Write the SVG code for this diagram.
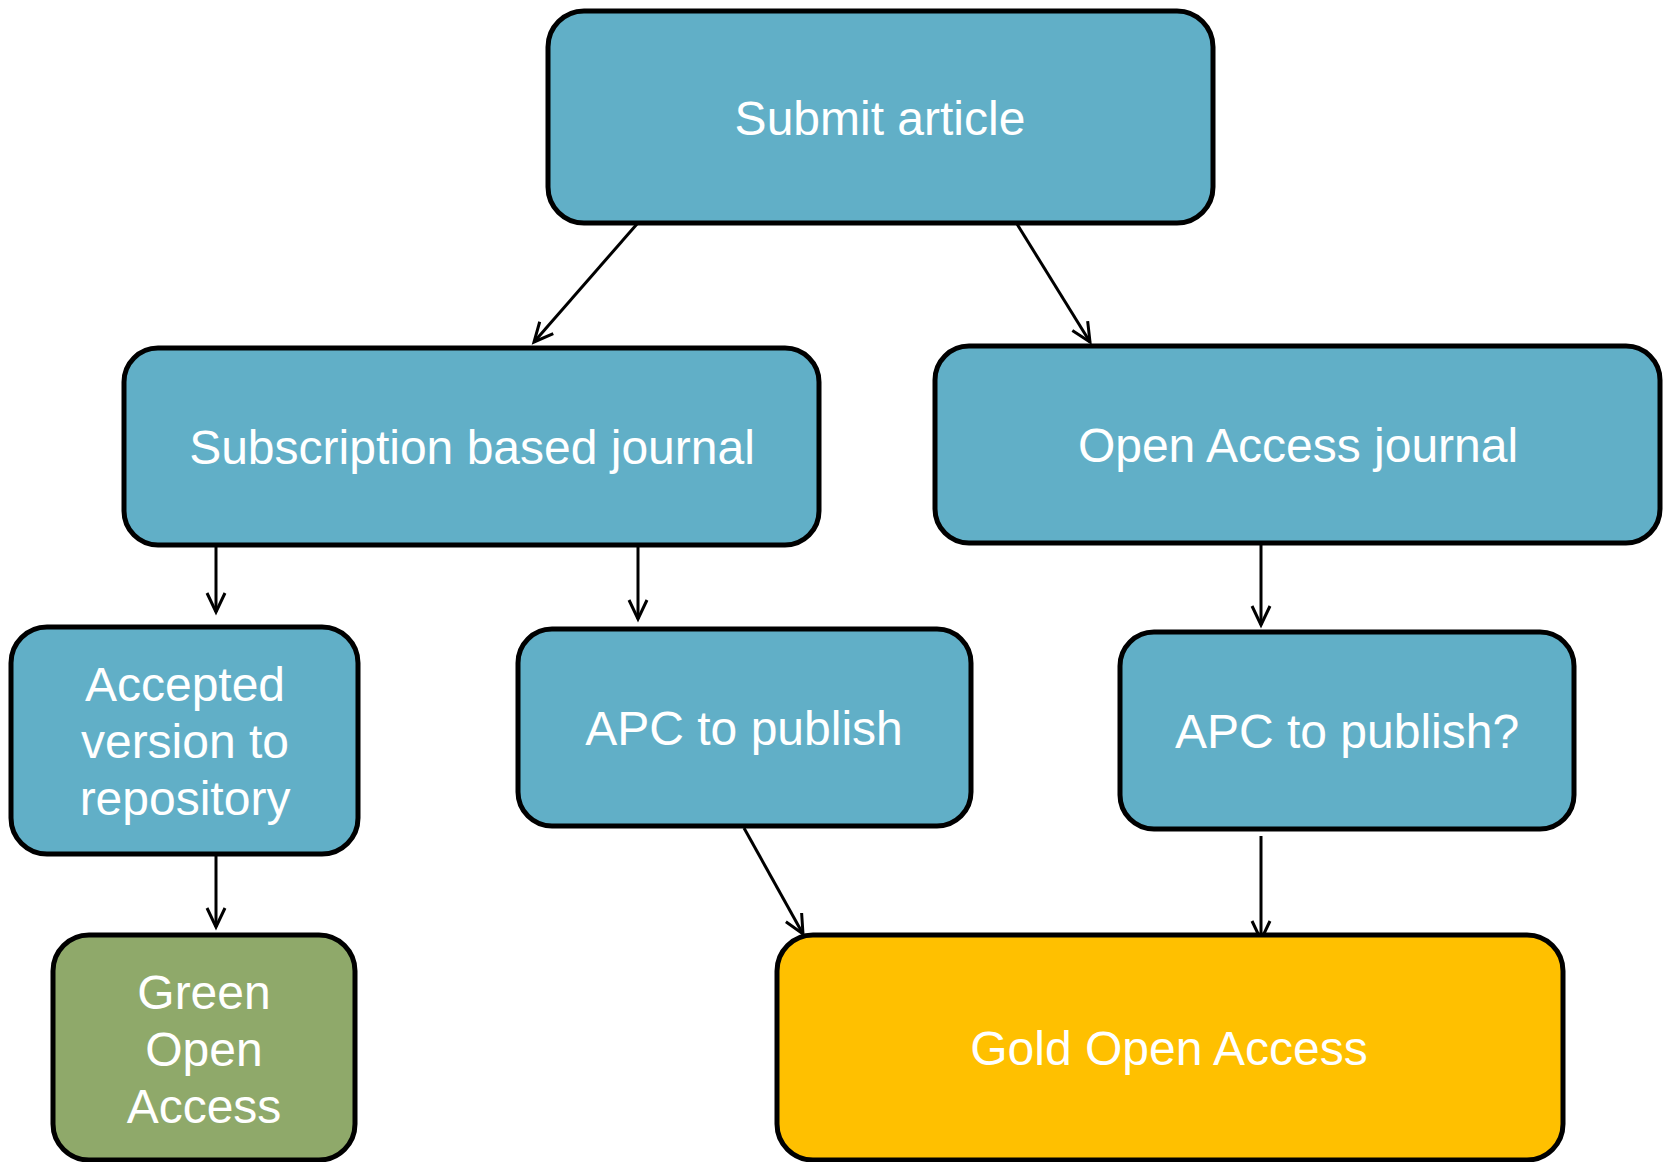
<svg xmlns="http://www.w3.org/2000/svg" width="1664" height="1162" viewBox="0 0 1664 1162">
<style>
.box{stroke:#000;stroke-width:5}
.blue{fill:#61AFC7}
.green{fill:#8FA96A}
.gold{fill:#FFC000}
.lbl{font-family:"Liberation Sans",Arial,sans-serif;font-size:48px;fill:#fff;text-anchor:middle}
.conn{stroke:#000;stroke-width:3;fill:none;marker-end:url(#arr)}
</style>
<defs>
<marker id="arr" markerUnits="userSpaceOnUse" viewBox="-22 -12 24 24" refX="0" refY="0" markerWidth="24" markerHeight="24" orient="auto" overflow="visible">
<path d="M-19,-9 L0,0 L-19,9" fill="none" stroke="#000" stroke-width="3"/>
</marker>
</defs>
<rect width="1664" height="1162" fill="#fff"/>
<g id="connectors">
<line class="conn" x1="637" y1="224" x2="534" y2="342"/>
<line class="conn" x1="1017" y1="224" x2="1090" y2="342"/>
<line class="conn" x1="216" y1="547" x2="216" y2="612"/>
<line class="conn" x1="638" y1="547" x2="638" y2="619"/>
<line class="conn" x1="1261" y1="545" x2="1261" y2="625"/>
<line class="conn" x1="216" y1="855" x2="216" y2="927"/>
<line class="conn" x1="744" y1="828" x2="803" y2="934"/>
<line class="conn" x1="1261" y1="836" x2="1261" y2="940"/>
</g>
<g id="submit">
<rect class="box blue" x="548" y="11" width="665" height="212" rx="36"/>
<text class="lbl" x="880" y="135">Submit article</text>
</g>
<g id="subscription">
<rect class="box blue" x="124" y="348" width="695" height="197" rx="34"/>
<text class="lbl" x="472" y="464">Subscription based journal</text>
</g>
<g id="oajournal">
<rect class="box blue" x="935" y="346" width="725" height="197" rx="34"/>
<text class="lbl" x="1298" y="462">Open Access journal</text>
</g>
<g id="accepted">
<rect class="box blue" x="11" y="627" width="347" height="227" rx="36"/>
<text class="lbl" x="185" y="701">Accepted</text>
<text class="lbl" x="185" y="758">version to</text>
<text class="lbl" x="185" y="815">repository</text>
</g>
<g id="apc">
<rect class="box blue" x="518" y="629" width="453" height="197" rx="34"/>
<text class="lbl" x="744" y="745">APC to publish</text>
</g>
<g id="apcq">
<rect class="box blue" x="1120" y="632" width="454" height="197" rx="34"/>
<text class="lbl" x="1347" y="748">APC to publish?</text>
</g>
<g id="green">
<rect class="box green" x="53" y="935" width="302" height="225" rx="36"/>
<text class="lbl" x="204" y="1009">Green</text>
<text class="lbl" x="204" y="1066">Open</text>
<text class="lbl" x="204" y="1123">Access</text>
</g>
<g id="gold">
<rect class="box gold" x="777" y="935" width="786" height="225" rx="36"/>
<text class="lbl" x="1169" y="1065">Gold Open Access</text>
</g>
</svg>
